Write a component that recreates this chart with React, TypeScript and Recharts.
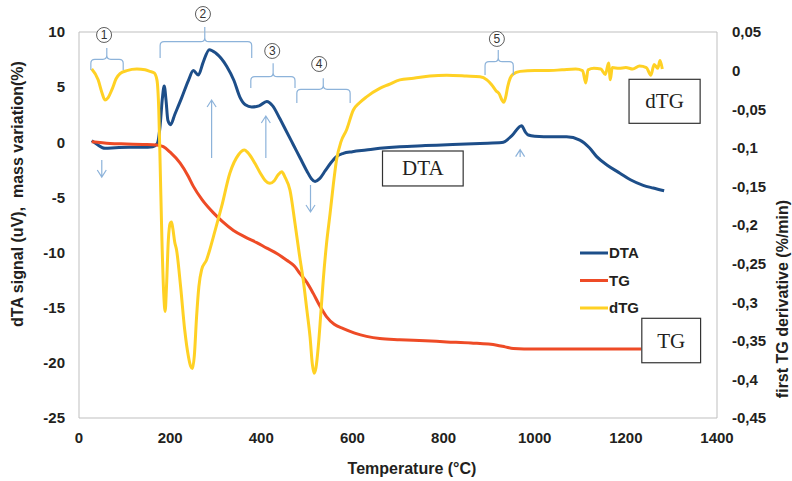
import React from "react";
import { ComposedChart, Line, XAxis, YAxis, ReferenceLine } from "recharts";

// temperature ticks and axis ticks
const xTicks = [0, 200, 400, 600, 800, 1000, 1200, 1400];
const leftTicks = [-25, -20, -15, -10, -5, 0, 5, 10];
const rightTicks = [-0.45, -0.4, -0.35, -0.3, -0.25, -0.2, -0.15, -0.1, -0.05, 0, 0.05];

// DTA signal (uV), left axis
const dtaTemp = [
  28, 40, 57, 80, 110, 140, 162, 172, 178, 183, 187, 191, 195, 201, 210, 225, 240, 251, 262, 272, 286, 300,
  324, 340, 353, 365, 379, 395, 412, 425, 440, 455, 470, 485, 500, 510, 518, 528, 540, 552, 565, 580, 600,
  630, 660, 704, 760, 820, 880, 928, 950, 971, 980, 986, 1000, 1040, 1070, 1099, 1120, 1136, 1160, 1187,
  1210, 1238, 1260, 1284,
];
const dtaSignal = [
  0.15, -0.2, -0.55, -0.5, -0.45, -0.45, -0.4, -0.1, 1.5, 4.0, 5.1, 3.8, 2.0, 1.6, 2.5, 4.0, 5.6, 6.5, 6.1, 7.2,
  8.4, 8.1, 6.9, 5.6, 4.1, 3.4, 3.2, 3.3, 3.7, 3.3, 2.2, 1.0, -0.2, -1.4, -2.6, -3.3, -3.55, -3.3, -2.6, -1.9,
  -1.3, -1.0, -0.85, -0.7, -0.55, -0.4, -0.3, -0.2, -0.1, -0.03, 0.6, 1.5, 0.9, 0.66, 0.55, 0.5, 0.5, 0.2,
  -0.5, -1.3, -2.1, -2.8, -3.4, -3.9, -4.15, -4.4,
];

// TG mass variation (%), left axis
const tgTemp = [
  28, 68, 105, 140, 170, 185, 200, 222, 240, 251, 270, 295, 315, 339, 365, 390, 412, 435, 456, 472, 485, 500,
  514, 528, 543, 560, 580, 605, 631, 660, 704, 760, 807, 860, 917, 935, 953, 1000, 1100, 1234,
];
const tgMass = [
  0.05, -0.1, -0.15, -0.2, -0.25, -0.4, -0.9, -1.9, -3.1, -4.0, -5.2, -6.4, -7.2, -8.0, -8.6, -9.1, -9.6, -10.1,
  -10.7, -11.2, -11.9, -12.7, -13.7, -14.8, -15.8, -16.5, -16.9, -17.3, -17.6, -17.8, -17.9, -18.0, -18.1,
  -18.2, -18.4, -18.55, -18.7, -18.75, -18.75, -18.75,
];

// first TG derivative (%/min), right axis
const dtgTemp = [
  28, 42, 50, 57, 64, 72, 82, 90, 105, 127, 145, 156, 165, 171, 175, 178, 182, 186, 189, 192, 196, 200, 203,
  206, 210, 214, 223, 232, 240, 245, 249, 253, 258, 263, 269, 280, 287, 295, 313, 331, 350, 363, 370, 386,
  398, 408, 419, 428, 437, 445, 452, 463, 474, 484, 492, 500, 507, 512, 516, 520, 525, 530, 536, 543, 551,
  558, 565, 575, 587, 602, 615, 631, 660, 680, 704, 734, 770, 807, 850, 880, 895, 905, 915, 922, 928, 932,
  936, 941, 946, 952, 968, 1000, 1026, 1060, 1090, 1105, 1112, 1117, 1130, 1145, 1155, 1162, 1166, 1170,
  1185, 1200, 1215, 1230, 1245, 1255, 1262, 1270, 1275, 1280,
];
const dtgRate = [
  0.002, -0.012, -0.028, -0.038, -0.035, -0.025, -0.01, -0.004, 0, 0.002, 0.001, -0.001, -0.003, -0.012, -0.05,
  -0.12, -0.22, -0.29, -0.312, -0.28, -0.22, -0.198, -0.196, -0.205, -0.222, -0.232, -0.28, -0.336, -0.37,
  -0.383, -0.386, -0.37, -0.319, -0.28, -0.258, -0.245, -0.232, -0.215, -0.176, -0.133, -0.109, -0.103,
  -0.106, -0.12, -0.133, -0.142, -0.146, -0.143, -0.135, -0.131, -0.138, -0.155, -0.198, -0.24, -0.271,
  -0.31, -0.345, -0.38, -0.392, -0.385, -0.358, -0.32, -0.271, -0.225, -0.185, -0.148, -0.116, -0.092,
  -0.077, -0.051, -0.042, -0.034, -0.023, -0.018, -0.012, -0.01, -0.007, -0.006, -0.007, -0.008, -0.012,
  -0.018, -0.026, -0.03, -0.038, -0.041, -0.035, -0.02, -0.01, -0.005, -0.001, 0, 0, 0.001, 0.002, 0,
  -0.016, 0.001, 0.003, 0.002, -0.005, 0.01, -0.012, 0.004, 0.003, 0.004, 0.002, 0.006, 0.004, -0.006,
  0.008, 0.003, 0.013, 0.002,
];

const series = [
  { key: "DTA", color: "#1D4E89", axis: "left", data: dtaTemp.map((t, i) => ({ t, v: dtaSignal[i] })) },
  { key: "TG", color: "#EE4B26", axis: "left", data: tgTemp.map((t, i) => ({ t, v: tgMass[i] })) },
  { key: "dTG", color: "#FFD124", axis: "right", data: dtgTemp.map((t, i) => ({ t, v: dtgRate[i] })) },
];

const W = 792;
const H = 481;
const plot = { left: 79, right: 717, top: 32, bottom: 418 };
const ink = "#231F20";
const sans = "'Liberation Sans', Arial, sans-serif";
const serif = "'Liberation Serif', 'Times New Roman', serif";
const noteBlue = "#8DB3DA";

// map temperature / left-axis value to pixels, for the annotations
const tx = (t: number) => plot.left + (t / 1400) * (plot.right - plot.left);
const ly = (v: number) => plot.top + ((10 - v) / 35) * (plot.bottom - plot.top);

function commaFormat(v: number): string {
  return String(Math.round(v * 100) / 100).replace(".", ",");
}

// bracket annotations, in temperature / left-axis units
const brackets = [
  { n: "1", t1: 26, t2: 97, tc: 61, bar: 7.52, end: 6.55, top: 8.55, lt: 55, lv: 9.73 },
  { n: "2", t1: 178, t2: 379, tc: 276, bar: 9.12, end: 7.64, top: 10.45, lt: 272, lv: 11.63 },
  { n: "3", t1: 377, t2: 474, tc: 426, bar: 5.95, end: 4.92, top: 7.16, lt: 424, lv: 8.28 },
  { n: "4", t1: 478, t2: 595, tc: 536, bar: 4.8, end: 3.56, top: 5.8, lt: 527, lv: 7.1 },
  { n: "5", t1: 891, t2: 953, tc: 920, bar: 7.31, end: 6.1, top: 8.37, lt: 917, lv: 9.37 },
];

const arrows = [
  { t: 50, from: -1.6, to: -3.15 },
  { t: 291, from: -1.42, to: 3.83 },
  { t: 410, from: -1.42, to: 2.38 },
  { t: 508, from: -3.87, to: -6.32 },
  { t: 968, from: -1.33, to: -0.66 },
];

const boxes = [
  { label: "dTG", t1: 1207, t2: 1363, v1: 5.71, v2: 1.72 },
  { label: "DTA", t1: 666, t2: 843, v1: -0.79, v2: -3.96 },
  { label: "TG", t1: 1235, t2: 1364, v1: -15.96, v2: -19.99 },
];

function Bracket({ b }: { b: (typeof brackets)[number] }) {
  const x1 = tx(b.t1), x2 = tx(b.t2), xc = tx(b.tc);
  const yb = ly(b.bar), ye = ly(b.end), yt = ly(b.top);
  const r = 4;
  const d =
    `M${x1},${ye} L${x1},${yb + r} Q${x1},${yb} ${x1 + r},${yb} L${xc - r},${yb} Q${xc},${yb} ${xc},${yb - r} L${xc},${yt} ` +
    `M${xc},${yb - r} Q${xc},${yb} ${xc + r},${yb} L${x2 - r},${yb} Q${x2},${yb} ${x2},${yb + r} L${x2},${ye}`;
  const cx = tx(b.lt), cy = ly(b.lv);
  return (
    <g>
      <path d={d} fill="none" stroke={noteBlue} strokeWidth={1.2} />
      <circle cx={cx} cy={cy} r={7.5} fill="#fff" stroke="#333" strokeWidth={0.8} />
      <text x={cx} y={cy + 4.3} textAnchor="middle" fontSize={12} fontFamily={sans} fill="#333">
        {b.n}
      </text>
    </g>
  );
}

function Arrow({ a }: { a: (typeof arrows)[number] }) {
  const x = tx(a.t), y1 = ly(a.from), y2 = ly(a.to);
  const dir = y2 > y1 ? -1 : 1;
  return (
    <path
      d={`M${x},${y1} L${x},${y2} M${x - 4.5},${y2 + dir * 7} L${x},${y2} L${x + 4.5},${y2 + dir * 7}`}
      fill="none"
      stroke={noteBlue}
      strokeWidth={1.2}
    />
  );
}

function Overlay() {
  return (
    <svg width={W} height={H} style={{ position: "absolute", left: 0, top: 0, pointerEvents: "none" }}>
      {brackets.map((b) => (
        <Bracket key={b.n} b={b} />
      ))}
      {arrows.map((a, i) => (
        <Arrow key={i} a={a} />
      ))}
      {boxes.map((b) => (
        <g key={b.label}>
          <rect
            x={tx(b.t1)}
            y={ly(b.v1)}
            width={tx(b.t2) - tx(b.t1)}
            height={ly(b.v2) - ly(b.v1)}
            fill="#fff"
            stroke="#333"
            strokeWidth={1.2}
          />
          <text
            x={(tx(b.t1) + tx(b.t2)) / 2}
            y={(ly(b.v1) + ly(b.v2)) / 2 + 7}
            textAnchor="middle"
            fontSize={21}
            fontFamily={serif}
            fill={ink}
          >
            {b.label}
          </text>
        </g>
      ))}
      {/* legend */}
      {series.map((s, i) => (
        <g key={s.key}>
          <line x1={580} x2={608} y1={253 + i * 27.5} y2={253 + i * 27.5} stroke={s.color} strokeWidth={3} />
          <text x={609} y={253 + i * 27.5 + 5.3} fontSize={15} fontWeight="bold" fontFamily={sans} fill={ink}>
            {s.key}
          </text>
        </g>
      ))}
      {/* axis titles */}
      <text
        transform="translate(23,194) rotate(-90)"
        textAnchor="middle"
        fontSize={16}
        fontWeight="bold"
        fontFamily={sans}
        fill={ink}
      >
        {"dTA signal (uV),\u00a0 mass variation(%)"}
      </text>
      <text
        transform="translate(788,299) rotate(-90)"
        textAnchor="middle"
        fontSize={16}
        fontWeight="bold"
        fontFamily={sans}
        fill={ink}
      >
        first TG derivative (%/min)
      </text>
      <text x={412} y={474} textAnchor="middle" fontSize={16} fontWeight="bold" fontFamily={sans} fill={ink}>
        Temperature (°C)
      </text>
    </svg>
  );
}

export default function App() {
  const tick = { fontSize: 15, fontWeight: "bold", fill: ink, fontFamily: sans };
  const border = { stroke: "#BFBFBF", strokeWidth: 1 };
  return (
    <div style={{ position: "absolute", left: 0, top: 0, width: W, height: H, background: "#fff" }}>
      <ComposedChart width={W} height={H} margin={{ top: 32, right: 15, bottom: 23, left: 19 }}>
        <XAxis
          type="number"
          dataKey="t"
          domain={[0, 1400]}
          ticks={xTicks}
          interval={0}
          height={40}
          tick={tick}
          tickLine={false}
          tickSize={6}
          tickMargin={8}
          axisLine={border}
        />
        <YAxis
          yAxisId="left"
          domain={[-25, 10]}
          ticks={leftTicks}
          interval={0}
          width={60}
          tick={tick}
          tickLine={false}
          tickSize={6}
          tickMargin={8}
          axisLine={border}
        />
        <YAxis
          yAxisId="right"
          orientation="right"
          domain={[-0.45, 0.05]}
          ticks={rightTicks}
          interval={0}
          width={60}
          tick={tick}
          tickLine={false}
          tickSize={6}
          tickMargin={9}
          tickFormatter={commaFormat}
          axisLine={border}
        />
        <ReferenceLine yAxisId="left" y={10} stroke="#BFBFBF" strokeWidth={1} />
        {series.map((s) => (
          <Line
            key={s.key}
            yAxisId={s.axis}
            data={s.data}
            dataKey="v"
            name={s.key}
            type="monotone"
            stroke={s.color}
            strokeWidth={3}
            dot={false}
            activeDot={false}
            isAnimationActive={false}
          />
        ))}
      </ComposedChart>
      <Overlay />
    </div>
  );
}
